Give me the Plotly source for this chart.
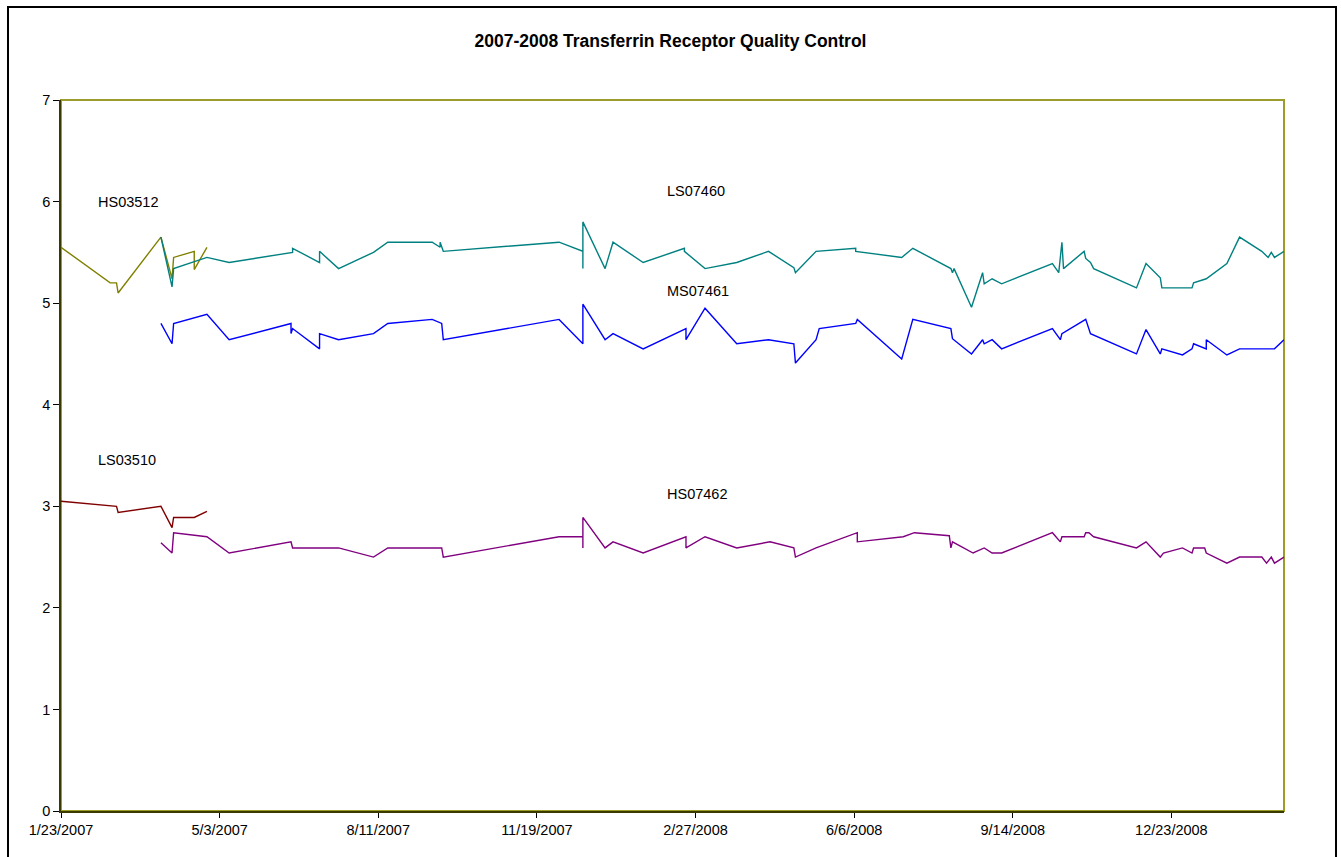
import pandas as pd
import plotly.graph_objects as go

# Control runs, stored as days since the first run (1/23/2007) and measured value
START = pd.Timestamp("2007-01-23")

hs03512_days = [0, 31, 35, 36, 63, 70, 71, 84, 84, 92]
hs03512_vals = [5.55, 5.20, 5.20, 5.10, 5.65, 5.24, 5.45, 5.51, 5.33, 5.55]

ls03510_days = [0, 35, 36, 63, 70, 71, 84, 92]
ls03510_vals = [3.05, 3.00, 2.94, 3.00, 2.79, 2.89, 2.89, 2.95]

ls07460_days = [63, 70, 71, 92, 106, 146, 146, 163, 163, 175, 197, 206, 234, 239, 239,
                241, 314, 329, 329, 329, 343, 348, 367, 393, 393, 406, 426, 446, 462,
                463, 476, 501, 501, 530, 537, 561, 562, 563, 574, 581, 582, 587, 593,
                625, 629, 631, 632, 645, 646, 649, 651, 678, 684, 693, 694, 713, 714,
                722, 735, 743, 757, 761, 763, 765, 771]
ls07460_vals = [5.65, 5.16, 5.34, 5.45, 5.40, 5.50, 5.54, 5.40, 5.51, 5.34, 5.50, 5.60,
                5.60, 5.55, 5.60, 5.51, 5.60, 5.51, 5.34, 5.80, 5.34, 5.60, 5.40, 5.54,
                5.51, 5.34, 5.40, 5.51, 5.35, 5.30, 5.51, 5.54, 5.51, 5.45, 5.54, 5.34,
                5.30, 5.34, 4.96, 5.30, 5.19, 5.24, 5.19, 5.39, 5.30, 5.60, 5.34, 5.51,
                5.44, 5.40, 5.34, 5.15, 5.39, 5.25, 5.15, 5.15, 5.20, 5.24, 5.39, 5.65,
                5.51, 5.45, 5.50, 5.45, 5.51]

ms07461_days = [63, 70, 71, 92, 106, 145, 145, 146, 163, 163, 175, 197, 206, 234, 240,
                241, 314, 329, 329, 343, 348, 367, 394, 394, 406, 426, 446, 462, 463,
                476, 478, 501, 502, 530, 537, 561, 562, 574, 581, 582, 587, 593, 625,
                630, 631, 646, 649, 678, 684, 693, 694, 707, 713, 714, 722, 722, 735,
                743, 765, 771]
ms07461_vals = [4.80, 4.60, 4.80, 4.89, 4.64, 4.80, 4.70, 4.75, 4.55, 4.70, 4.64, 4.70,
                4.80, 4.84, 4.80, 4.64, 4.84, 4.60, 4.99, 4.64, 4.70, 4.55, 4.75, 4.64,
                4.95, 4.60, 4.64, 4.60, 4.41, 4.64, 4.75, 4.80, 4.84, 4.45, 4.84, 4.75,
                4.65, 4.50, 4.64, 4.60, 4.64, 4.55, 4.75, 4.64, 4.70, 4.84, 4.70, 4.50,
                4.74, 4.50, 4.55, 4.49, 4.55, 4.60, 4.55, 4.64, 4.49, 4.55, 4.55, 4.64]

hs07462_days = [63, 70, 71, 92, 106, 145, 146, 175, 197, 206, 240, 241, 314, 329, 329,
                329, 343, 348, 367, 394, 394, 406, 426, 447, 462, 463, 476, 502, 502,
                531, 538, 560, 561, 562, 575, 582, 587, 593, 625, 630, 631, 645, 646,
                648, 651, 678, 684, 693, 695, 707, 713, 714, 721, 722, 735, 743, 757,
                760, 763, 765, 771]
hs07462_vals = [2.64, 2.54, 2.74, 2.70, 2.54, 2.65, 2.59, 2.59, 2.50, 2.59, 2.59, 2.50,
                2.70, 2.70, 2.59, 2.89, 2.59, 2.65, 2.54, 2.70, 2.59, 2.70, 2.59, 2.65,
                2.59, 2.50, 2.59, 2.74, 2.65, 2.70, 2.74, 2.71, 2.59, 2.65, 2.54, 2.59,
                2.54, 2.54, 2.74, 2.65, 2.70, 2.70, 2.74, 2.74, 2.70, 2.59, 2.65, 2.50,
                2.54, 2.59, 2.54, 2.59, 2.59, 2.54, 2.44, 2.50, 2.50, 2.44, 2.50, 2.44,
                2.50]

series = [
    ("HS03512", hs03512_days, hs03512_vals, "#808000"),
    ("LS03510", ls03510_days, ls03510_vals, "#800000"),
    ("LS07460", ls07460_days, ls07460_vals, "#008080"),
    ("MS07461", ms07461_days, ms07461_vals, "#0000ff"),
    ("HS07462", hs07462_days, hs07462_vals, "#800080"),
]

# Series labels: (text, day offset of left edge, value)
labels = [
    ("HS03512", 22, 6.0),
    ("LS07460", 381, 6.1),
    ("MS07461", 381, 5.12),
    ("LS03510", 22, 3.46),
    ("HS07462", 381, 3.12),
]


def to_dates(days):
    return START + pd.to_timedelta(days, unit="D")


FONT = "Arial, 'Liberation Sans', sans-serif"

fig = go.Figure()
for name, d, v, color in series:
    fig.add_trace(go.Scatter(
        x=to_dates(d), y=v, mode="lines", name=name,
        line=dict(color=color, width=1.4),
        hoverinfo="x+y+name",
    ))

for text, d, v in labels:
    fig.add_annotation(
        x=START + pd.Timedelta(days=d), y=v, xref="x", yref="y",
        text=text, showarrow=False, xanchor="left", yanchor="middle",
        font=dict(family=FONT, size=14.5, color="#000000"),
    )

W, H = 1341, 857
L, R, T, B = 61, 57, 100, 46
pw, ph = W - L - R, H - T - B

# Outer chart frame, in paper units extended beyond the plot area
fig.add_shape(
    type="rect", xref="paper", yref="paper",
    x0=(8 - L) / pw, x1=(1336 - L) / pw,
    y0=(H - B - 860) / ph, y1=(H - B - 7) / ph,
    line=dict(color="#000000", width=2), layer="below",
)
# Plot area border
fig.add_shape(
    type="rect", xref="paper", yref="paper", x0=0, x1=1, y0=0, y1=1,
    line=dict(color="#9c9c2c", width=2), layer="below",
)

fig.update_layout(
    width=W, height=H,
    margin=dict(l=L, r=R, t=T, b=B, pad=0),
    paper_bgcolor="#ffffff", plot_bgcolor="#ffffff",
    showlegend=False,
    font=dict(family=FONT, size=14.5, color="#000000"),
    title=dict(
        text="<b>2007-2008 Transferrin Receptor Quality Control</b>",
        x=0.5, xanchor="center", y=1 - 41 / H, yanchor="middle",
        font=dict(family=FONT, size=17.5, color="#000000"),
    ),
    xaxis=dict(
        type="date",
        range=[START, START + pd.Timedelta(days=771)],
        tick0=START, dtick=100 * 86400000,
        tickformat="%-m/%-d/%Y",
        showgrid=False, zeroline=False,
        showline=True, linecolor="#3a3a00", linewidth=1.5,
        ticks="outside", ticklen=5, tickcolor="#000000",
        tickfont=dict(family=FONT, size=14.5),
    ),
    yaxis=dict(
        range=[0, 7], tick0=0, dtick=1,
        showgrid=False, zeroline=False,
        showline=True, linecolor="#3a3a00", linewidth=1.5,
        ticks="outside", ticklen=6, tickcolor="#000000",
        tickfont=dict(family=FONT, size=14.5),
    ),
)

fig.write_html("out.html")
